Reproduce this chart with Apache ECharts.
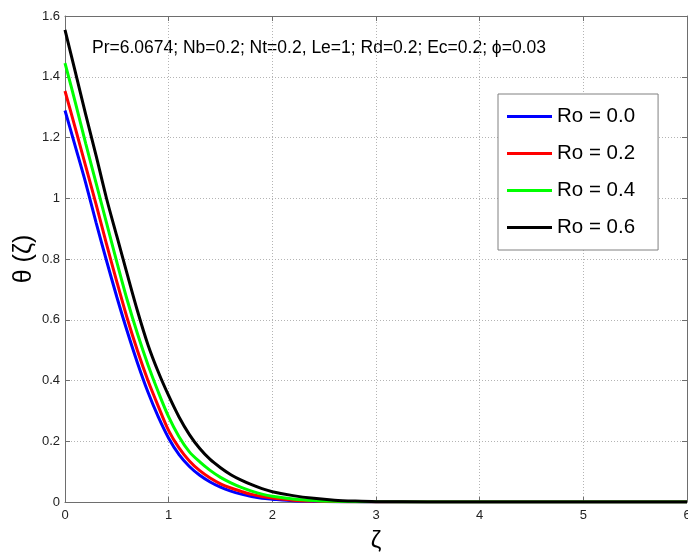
<!DOCTYPE html>
<html>
<head>
<meta charset="utf-8">
<script src="https://cdn.jsdelivr.net/npm/echarts@6/dist/echarts.min.js"></script>
<style>
html,body{margin:0;padding:0;background:#fff;}
#chart{width:688px;height:553px;}
</style>
</head>
<body>
<div id="chart"></div>
<script>
var zeta = [0,0.1,0.2,0.3,0.4,0.5,0.6,0.7,0.8,0.9,1.0,1.1,1.2,1.3,1.4,1.5,1.6,1.7,1.8,1.9,2.0,2.2,2.4,2.6,2.8,3.0,3.5,4,5,6];
var ro00 = [1.289,1.17,1.05,0.92,0.795,0.675,0.562,0.457,0.362,0.28,0.21,0.156,0.117,0.088,0.066,0.049,0.036,0.026,0.018,0.012,0.009,0.004,0.002,0.001,0.0005,0,0,0,0,0];
var ro02 = [1.353,1.23,1.105,0.98,0.85,0.725,0.605,0.497,0.40,0.315,0.235,0.178,0.135,0.103,0.079,0.06,0.046,0.035,0.025,0.018,0.013,0.006,0.003,0.0015,0.0007,0.0003,0,0,0,0];
var ro04 = [1.445,1.315,1.18,1.05,0.92,0.79,0.665,0.553,0.452,0.362,0.28,0.215,0.165,0.132,0.104,0.081,0.063,0.048,0.036,0.026,0.019,0.01,0.005,0.0025,0.0012,0.0005,0,0,0,0];
var ro06 = [1.554,1.415,1.275,1.14,1.0,0.875,0.75,0.628,0.518,0.428,0.35,0.28,0.222,0.176,0.14,0.113,0.09,0.072,0.057,0.044,0.034,0.021,0.012,0.006,0.003,0.0012,0.0003,0,0,0];
var seriesNames = ['Ro = 0.0','Ro = 0.2','Ro = 0.4','Ro = 0.6'];
var seriesColors = ['#0000ff','#ff0000','#00ff00','#000000'];
var titleText = 'Pr=6.0674; Nb=0.2; Nt=0.2, Le=1; Rd=0.2; Ec=0.2; \u03d5=0.03';

function pairs(ys){ return zeta.map(function(x,i){ return [x, ys[i]]; }); }
var allY = [ro00, ro02, ro04, ro06];
var FONT = '"Liberation Sans", Arial, sans-serif';

var chart = echarts.init(document.getElementById('chart'), null, {renderer:'canvas'});
var axisLineStyle = {color:'#6e6e6e', width:1};
var gridLine = {show:true, lineStyle:{color:'#b4b4b4', type:[1,2], width:1}};
var option = {
  animation:false,
  backgroundColor:'#fff',
  grid:{left:65, right:1, top:16, bottom:51, containLabel:false, outerBoundsMode:'none'},
  graphic:[{type:'text', left:92, top:39, style:{text:titleText, font:'17.5px ' + FONT, fill:'#000'}}],
  legend:{
    orient:'vertical', left:498, top:94,
    padding:[12,23,12,9], itemGap:16, itemWidth:45, itemHeight:3,
    icon:'rect', borderColor:'#808080', borderWidth:1, backgroundColor:'#fff',
    textStyle:{fontFamily:FONT, fontSize:20.5, color:'#000', lineHeight:20},
    data:seriesNames
  },
  xAxis:[{
    type:'value', min:0, max:6, interval:1,
    name:'\u03b6', nameLocation:'middle', nameGap:27, nameMoveOverlap:false,
    nameTextStyle:{fontFamily:FONT, fontSize:24, color:'#000'},
    axisLine:{show:true, onZero:false, lineStyle:axisLineStyle},
    axisTick:{show:true, inside:true, length:5, lineStyle:axisLineStyle},
    axisLabel:{fontFamily:FONT, fontSize:13, color:'#222', margin:7},
    splitLine:gridLine
  },{
    type:'value', min:0, max:6, interval:1, position:'top',
    axisLine:{show:true, onZero:false, lineStyle:axisLineStyle},
    axisTick:{show:true, inside:true, length:5, lineStyle:axisLineStyle},
    axisLabel:{show:false}, splitLine:{show:false}
  }],
  yAxis:[{
    type:'value', min:0, max:1.6, interval:0.2,
    name:'\u03b8 (\u03b6)', nameLocation:'middle', nameGap:28, nameMoveOverlap:false,
    nameTextStyle:{fontFamily:FONT, fontSize:25, color:'#000'},
    axisLine:{show:true, onZero:false, lineStyle:axisLineStyle},
    axisTick:{show:true, inside:true, length:5, lineStyle:axisLineStyle},
    axisLabel:{fontFamily:FONT, fontSize:13, color:'#222', margin:5,
      formatter:function(v){ return String(Math.round(v*10)/10); }},
    splitLine:gridLine
  },{
    type:'value', min:0, max:1.6, interval:0.2, position:'right',
    axisLine:{show:true, onZero:false, lineStyle:axisLineStyle},
    axisTick:{show:true, inside:true, length:5, lineStyle:axisLineStyle},
    axisLabel:{show:false}, splitLine:{show:false}
  }],
  series: allY.map(function(ys, i){
    return {
      name:seriesNames[i], type:'line', xAxisIndex:0, yAxisIndex:0,
      data:pairs(ys), showSymbol:false, symbol:'none',
      smooth:0.3,
      lineStyle:{color:seriesColors[i], width:3},
      itemStyle:{color:seriesColors[i]}
    };
  })
};
chart.setOption(option);
</script>
</body>
</html>
